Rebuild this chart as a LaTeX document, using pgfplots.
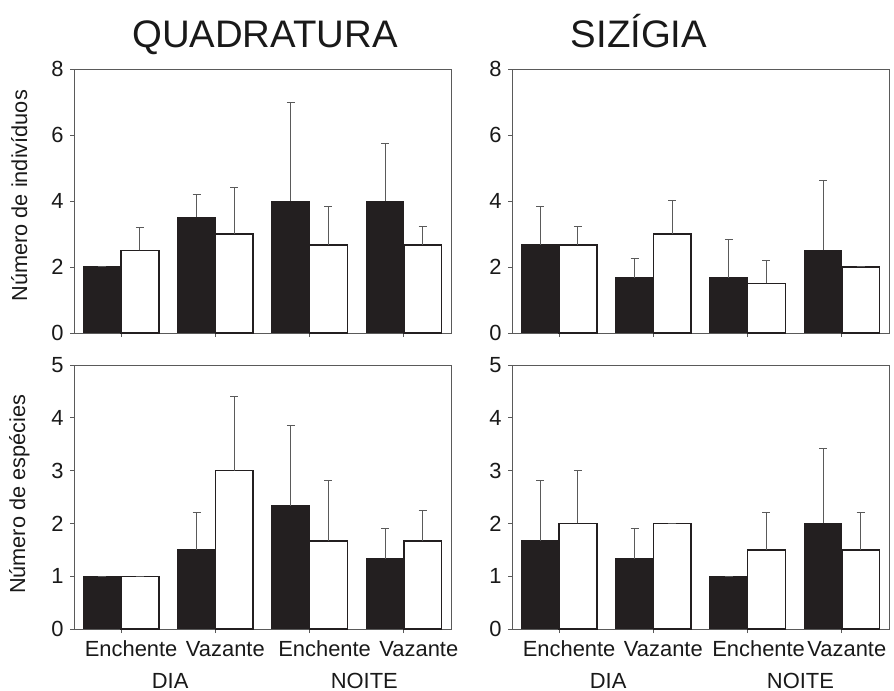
\documentclass[border=0pt]{standalone}
\usepackage{pgfplots}
\pgfplotsset{compat=1.18}
\usepackage{pgfplotstable}
\usepackage{fontspec}
\setmainfont{Liberation Sans}
\definecolor{barblack}{HTML}{231F20}
\definecolor{axgray}{HTML}{5A5A5A}

% Quadratura, individuos
\pgfplotstableread{
x y e
0 2.00 0
1 3.50 0.71
2 4.00 3.00
3 4.00 1.74
}\qiblack
\pgfplotstableread{
x y e
0 2.50 0.71
1 3.00 1.41
2 2.67 1.16
3 2.67 0.57
}\qiwhite
% Sizigia, individuos
\pgfplotstableread{
x y e
0 2.67 1.15
1 1.67 0.58
2 1.67 1.15
3 2.50 2.13
}\siblack
\pgfplotstableread{
x y e
0 2.67 0.57
1 3.00 1.00
2 1.50 0.71
3 2.00 0
}\siwhite
% Quadratura, especies
\pgfplotstableread{
x y e
0 1.00 0
1 1.50 0.71
2 2.33 1.52
3 1.33 0.57
}\qeblack
\pgfplotstableread{
x y e
0 1.00 0
1 3.00 1.41
2 1.67 1.15
3 1.67 0.57
}\qewhite
% Sizigia, especies
\pgfplotstableread{
x y e
0 1.67 1.15
1 1.33 0.57
2 1.00 0
3 2.00 1.41
}\seblack
\pgfplotstableread{
x y e
0 2.00 1.00
1 2.00 0
2 1.50 0.71
3 1.50 0.71
}\sewhite

\tikzset{grouplabel/.style={anchor=base, font=\fontsize{22}{25}\selectfont, text=black!90}}

\pgfplotsset{
  panel/.style={
    scale only axis, width=377bp, height=264bp, anchor=south west,
    xmin=-0.5, xmax=3.5, ymin=0, clip=false,
    ybar=0pt, bar width=0.4,
    xtick={0,1,2,3}, tick pos=left, tick align=outside,
    major tick length=4bp,
    axis line style={draw=axgray, line width=0.9bp},
    every tick/.style={draw=axgray, line width=0.9bp},
    /pgf/number format/assume math mode=true,
    tick label style={font=\fontsize{22}{25}\selectfont, text=black!90},
    yticklabel style={xshift=-3bp},
    xticklabel style={text height=16bp, text depth=0bp, inner sep=0pt, yshift=-7bp},
    label style={font=\fontsize{21.8}{25}\selectfont, text=black!90},
  },
  toprow/.style={ymax=8, ytick={0,2,4,6,8}, xticklabels={},
    ylabel style={at={(axis description cs:-0.145,0.52)}, anchor=center}},
  botrow/.style={ymax=5, ytick={0,1,2,3,4,5},
    ylabel style={at={(axis description cs:-0.145,0.51)}, anchor=center}},
  errstyle/.style={error bars/.cd, y dir=plus, y explicit, error mark=-,
    error bar style={draw=axgray, line width=1bp, solid},
    error mark options={rotate=90, draw=axgray, mark size=4bp, line width=1bp}},
  blackbar/.style={fill=barblack, draw=barblack, line width=1bp, errstyle},
  whitebar/.style={fill=white, draw=barblack, line width=1.4bp, errstyle},
}

\begin{document}
\begin{tikzpicture}
\path[use as bounding box] (0bp,0bp) rectangle (894bp,691bp);

\node[anchor=base, font=\fontsize{38.5}{42}\selectfont, text=black!90] at (265bp,643bp) {QUADRATURA};
\node[anchor=base, font=\fontsize{38.5}{42}\selectfont, text=black!90] at (639bp,643bp) {SIZÍGIA};

% top-left
\begin{axis}[panel, toprow, at={(74bp,358bp)}, ylabel={Número de indivíduos}]
\addplot[blackbar] table[x=x, y=y, y error=e] {\qiblack};
\addplot[whitebar] table[x=x, y=y, y error=e] {\qiwhite};
\end{axis}

% top-right
\begin{axis}[panel, toprow, at={(512bp,358bp)}]
\addplot[blackbar] table[x=x, y=y, y error=e] {\siblack};
\addplot[whitebar] table[x=x, y=y, y error=e] {\siwhite};
\end{axis}

% bottom-left
\begin{axis}[panel, botrow, at={(74bp,62bp)}, ylabel={Número de espécies},
  xticklabels={\hspace{20bp}Enchente,\hspace{20bp}Vazante,\hspace{30bp}Enchente,\hspace{30bp}Vazante}]
\addplot[blackbar] table[x=x, y=y, y error=e] {\qeblack};
\addplot[whitebar] table[x=x, y=y, y error=e] {\qewhite};
\node[grouplabel] at (axis cs:0.52,0) [yshift=-59bp] {DIA};
\node[grouplabel] at (axis cs:2.58,0) [yshift=-59bp] {NOITE};
\end{axis}

% bottom-right
\begin{axis}[panel, botrow, at={(512bp,62bp)},
  xticklabels={\hspace{20bp}Enchente,\hspace{20bp}Vazante,\hspace{22bp}Enchente,\hspace{10bp}Vazante}]
\addplot[blackbar] table[x=x, y=y, y error=e] {\seblack};
\addplot[whitebar] table[x=x, y=y, y error=e] {\sewhite};
\node[grouplabel] at (axis cs:0.52,0) [yshift=-59bp] {DIA};
\node[grouplabel] at (axis cs:2.56,0) [yshift=-59bp] {NOITE};
\end{axis}
\end{tikzpicture}
\end{document}
